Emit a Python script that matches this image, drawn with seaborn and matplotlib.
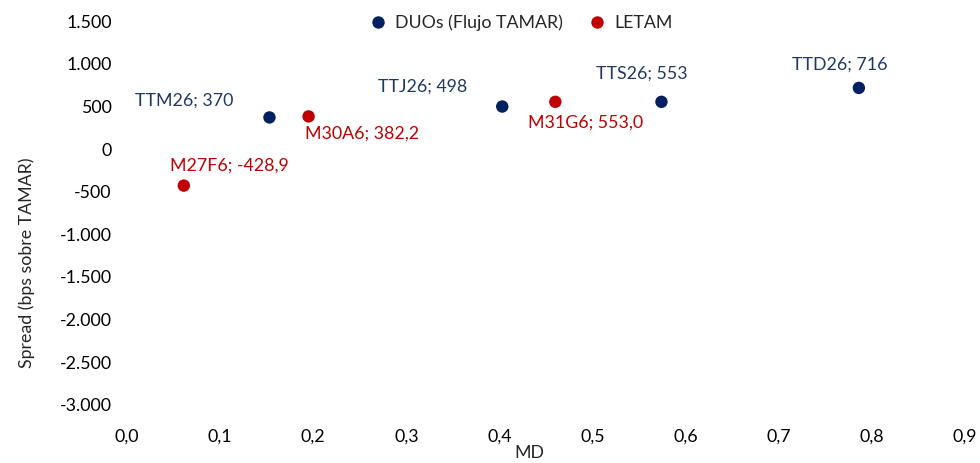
import pandas as pd
import matplotlib
matplotlib.use('Agg')
import matplotlib.pyplot as plt
import seaborn as sns
from matplotlib.ticker import FuncFormatter

# Datos
duo_names = ['TTM26', 'TTJ26', 'TTS26', 'TTD26']
duo_md = [0.153, 0.403, 0.574, 0.786]
duo_spread = [370, 498, 553, 716]
duo_labels = ['TTM26; 370', 'TTJ26; 498', 'TTS26; 553', 'TTD26; 716']

letam_names = ['M27F6', 'M30A6', 'M31G6']
letam_md = [0.061, 0.195, 0.460]
letam_spread = [-428.9, 382.2, 553.0]
letam_labels = ['M27F6; -428,9', 'M30A6; 382,2', 'M31G6; 553,0']

series_names = ['DUOs (Flujo TAMAR)', 'LETAM']
NAVY = '#002060'
RED = '#C00000'

df = pd.DataFrame({
    'MD': duo_md + letam_md,
    'Spread': duo_spread + letam_spread,
    'Serie': [series_names[0]] * len(duo_md) + [series_names[1]] * len(letam_md),
    'Label': duo_labels + letam_labels,
})

sns.set_style('white')
plt.rcParams['font.family'] = ['Lato', 'DejaVu Sans']
FS = 12.8

fig = plt.figure(figsize=(9.8, 4.63), dpi=100)
ax = fig.add_axes([0.1296, 0.1253, 0.8551, 0.8293])

sns.scatterplot(data=df, x='MD', y='Spread', hue='Serie',
                palette={series_names[0]: NAVY, series_names[1]: RED},
                s=80, edgecolor='none', ax=ax, legend=True)

# etiquetas de datos (offset en pixeles)
offsets = {
    'TTM26; 370': (-85, 17), 'TTJ26; 498': (-80, 20),
    'TTS26; 553': (-20, 28), 'TTD26; 716': (-19, 23),
    'M27F6; -428,9': (46, 20), 'M30A6; 382,2': (53, -17),
    'M31G6; 553,0': (30, -21),
}
for _, r in df.iterrows():
    col = '#1F3864' if r['Serie'] == series_names[0] else RED
    ax.annotate(r['Label'], (r['MD'], r['Spread']), xytext=offsets[r['Label']],
                textcoords='offset pixels', ha='center', va='center',
                fontsize=FS, color=col)

ax.set_xlim(0, 0.9)
ax.set_ylim(-3000, 1500)
ax.set_xticks([i / 10 for i in range(10)])
ax.set_yticks(range(-3000, 1501, 500))

ax.xaxis.set_major_formatter(FuncFormatter(lambda v, p: f'{v:.1f}'.replace('.', ',')))
ax.yaxis.set_major_formatter(FuncFormatter(lambda v, p: f'{int(v):,}'.replace(',', '.')))
ax.tick_params(axis='both', length=0, labelsize=FS, colors='#000000')
ax.tick_params(axis='x', pad=17)
ax.tick_params(axis='y', pad=11)

for s in ax.spines.values():
    s.set_visible(False)

ax.set_xlabel('MD', fontsize=FS)
ax.set_ylabel('Spread (bps sobre TAMAR)', fontsize=FS)
ax.xaxis.set_label_coords(0.48, -0.105)
ax.yaxis.set_label_coords(-0.11, 0.37)

ax.legend(loc='center', bbox_to_anchor=(0.527, 0.95), bbox_transform=fig.transFigure,
          ncol=2, frameon=False, fontsize=FS, handletextpad=0.0,
          columnspacing=0.9, markerscale=1.0, title=None)

fig.savefig('out.png', dpi=100)
